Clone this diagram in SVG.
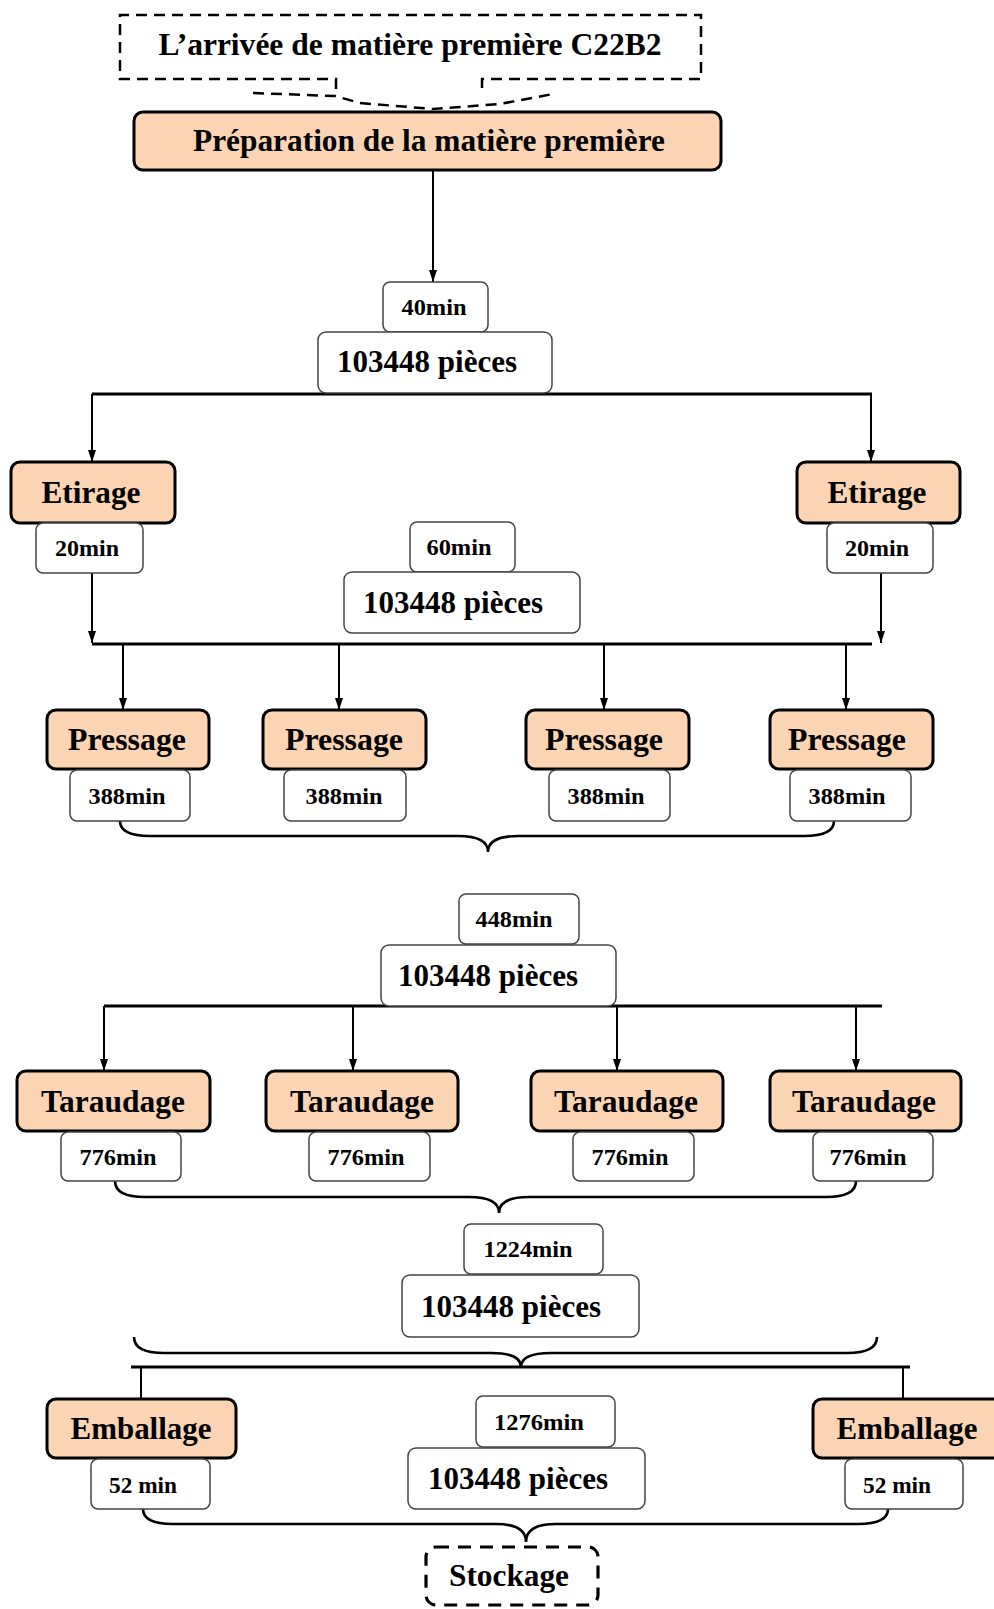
<svg xmlns="http://www.w3.org/2000/svg" width="994" height="1609" viewBox="0 0 994 1609">
<defs>
<style>
.o{fill:#FBD4B4;stroke:#000;stroke-width:3}
.w{fill:#fff;stroke:#444;stroke-width:1.5}
.dash{fill:none;stroke:#000;stroke-width:2.5;stroke-dasharray:11 7}
.dash2{fill:none;stroke:#000;stroke-width:3.2;stroke-dasharray:13 9}
.ln{fill:none;stroke:#000;stroke-width:2}
.bar{fill:none;stroke:#000;stroke-width:3}
.br{fill:none;stroke:#000;stroke-width:2.6}
.big{font-family:"Liberation Serif","Times New Roman",serif;font-weight:bold;font-size:32px;fill:#000;text-anchor:middle}
.sm{font-family:"Liberation Serif","Times New Roman",serif;font-weight:bold;font-size:24px;fill:#000;text-anchor:middle}
</style>
<marker id="ar" viewBox="0 0 12 10" refX="12" refY="5" markerWidth="12" markerHeight="10" markerUnits="userSpaceOnUse" orient="auto">
<path d="M0,1 L12,5 L0,9 z" fill="#000"/>
</marker>
</defs>
<rect width="994" height="1609" fill="#fff"/>

<g id="connectors">
<path class="dash" d="M253 93 L335 96 L360 103 L433 109 L500 104 L553 94"/>
<line class="ln" x1="433" y1="170" x2="433" y2="282" marker-end="url(#ar)"/>
<line class="bar" x1="92" y1="394" x2="872" y2="394"/>
<line class="ln" x1="92" y1="394" x2="92" y2="462" marker-end="url(#ar)"/>
<line class="ln" x1="871" y1="394" x2="871" y2="462" marker-end="url(#ar)"/>
<line class="ln" x1="92" y1="573" x2="92" y2="643" marker-end="url(#ar)"/>
<line class="ln" x1="881" y1="573" x2="881" y2="643" marker-end="url(#ar)"/>
<line class="bar" x1="92" y1="644" x2="872" y2="644"/>
<line class="ln" x1="123" y1="644" x2="123" y2="710" marker-end="url(#ar)"/>
<line class="ln" x1="339" y1="644" x2="339" y2="710" marker-end="url(#ar)"/>
<line class="ln" x1="604" y1="644" x2="604" y2="710" marker-end="url(#ar)"/>
<line class="ln" x1="846" y1="644" x2="846" y2="710" marker-end="url(#ar)"/>
<path class="br" d="M120 821 Q120 836 150 836 L458 836 Q488 836 488 852 Q488 836 518 836 L804 836 Q834 836 834 821"/>
<line class="bar" x1="104" y1="1006" x2="882" y2="1006"/>
<line class="ln" x1="104" y1="1006" x2="104" y2="1071" marker-end="url(#ar)"/>
<line class="ln" x1="353" y1="1006" x2="353" y2="1071" marker-end="url(#ar)"/>
<line class="ln" x1="617" y1="1006" x2="617" y2="1071" marker-end="url(#ar)"/>
<line class="ln" x1="856" y1="1006" x2="856" y2="1071" marker-end="url(#ar)"/>
<path class="br" d="M115 1181 Q115 1197 145 1197 L469 1197 Q499 1197 499 1213 Q499 1197 529 1197 L826 1197 Q856 1197 856 1181"/>
<path class="br" d="M134 1337 Q134 1353 164 1353 L491 1353 Q521 1353 521 1367 Q521 1353 551 1353 L847 1353 Q877 1353 877 1337"/>
<line class="bar" x1="131" y1="1367" x2="910" y2="1367"/>
<line class="ln" x1="141" y1="1367" x2="141" y2="1399"/>
<line class="ln" x1="903" y1="1367" x2="903" y2="1399"/>
<path class="br" d="M143 1509 Q143 1524 173 1524 L496 1524 Q526 1524 526 1542 Q526 1524 556 1524 L858 1524 Q888 1524 888 1509"/>
</g>

<g id="arrivee">
<path class="dash" d="M336 89 L336 79 L120 79 L120 15 L701 15 L701 79 L482 79 L482 93"/>
<text class="big" x="410" y="55" textLength="503" lengthAdjust="spacingAndGlyphs">L’arrivée de matière première C22B2</text>
</g>
<g id="preparation">
<rect class="o" x="134" y="112" width="587" height="58" rx="9"/>
<text class="big" x="429" y="151" textLength="472" lengthAdjust="spacingAndGlyphs">Préparation de la matière première</text>
</g>
<g id="t40">
<rect class="w" x="383" y="282" width="105" height="50" rx="7"/>
<text class="sm" x="434" y="315" textLength="65" lengthAdjust="spacingAndGlyphs">40min</text>
</g>
<g id="p1">
<rect class="w" x="318" y="332" width="234" height="61" rx="8"/>
<text class="big" x="427" y="372" textLength="180" lengthAdjust="spacingAndGlyphs">103448 pièces</text>
</g>
<g id="etirage-l">
<rect class="o" x="11" y="462" width="164" height="61" rx="9"/>
<text class="big" x="91" y="503" textLength="99" lengthAdjust="spacingAndGlyphs">Etirage</text>
</g>
<g id="t20-l">
<rect class="w" x="36" y="523" width="107" height="50" rx="7"/>
<text class="sm" x="87" y="556" textLength="64" lengthAdjust="spacingAndGlyphs">20min</text>
</g>
<g id="etirage-r">
<rect class="o" x="797" y="462" width="163" height="61" rx="9"/>
<text class="big" x="877" y="503" textLength="99" lengthAdjust="spacingAndGlyphs">Etirage</text>
</g>
<g id="t20-r">
<rect class="w" x="827" y="523" width="106" height="50" rx="7"/>
<text class="sm" x="877" y="556" textLength="64" lengthAdjust="spacingAndGlyphs">20min</text>
</g>
<g id="t60">
<rect class="w" x="410" y="522" width="105" height="50" rx="7"/>
<text class="sm" x="459" y="555" textLength="65" lengthAdjust="spacingAndGlyphs">60min</text>
</g>
<g id="p2">
<rect class="w" x="344" y="572" width="236" height="61" rx="8"/>
<text class="big" x="453" y="613" textLength="180" lengthAdjust="spacingAndGlyphs">103448 pièces</text>
</g>

<g id="pressage-1">
<rect class="o" x="47" y="710" width="162" height="59" rx="9"/>
<text class="big" x="127" y="750" textLength="118" lengthAdjust="spacingAndGlyphs">Pressage</text>
</g>
<g id="pressage-2">
<rect class="o" x="263" y="710" width="163" height="59" rx="9"/>
<text class="big" x="344" y="750" textLength="118" lengthAdjust="spacingAndGlyphs">Pressage</text>
</g>
<g id="pressage-3">
<rect class="o" x="526" y="710" width="163" height="59" rx="9"/>
<text class="big" x="604" y="750" textLength="118" lengthAdjust="spacingAndGlyphs">Pressage</text>
</g>
<g id="pressage-4">
<rect class="o" x="770" y="710" width="163" height="59" rx="9"/>
<text class="big" x="847" y="750" textLength="118" lengthAdjust="spacingAndGlyphs">Pressage</text>
</g>
<g id="t388-1">
<rect class="w" x="70" y="770" width="120" height="51" rx="7"/>
<text class="sm" x="127" y="804" textLength="77" lengthAdjust="spacingAndGlyphs">388min</text>
</g>
<g id="t388-2">
<rect class="w" x="284" y="770" width="122" height="51" rx="7"/>
<text class="sm" x="344" y="804" textLength="77" lengthAdjust="spacingAndGlyphs">388min</text>
</g>
<g id="t388-3">
<rect class="w" x="549" y="770" width="121" height="51" rx="7"/>
<text class="sm" x="606" y="804" textLength="77" lengthAdjust="spacingAndGlyphs">388min</text>
</g>
<g id="t388-4">
<rect class="w" x="790" y="770" width="121" height="51" rx="7"/>
<text class="sm" x="847" y="804" textLength="77" lengthAdjust="spacingAndGlyphs">388min</text>
</g>

<g id="t448">
<rect class="w" x="459" y="894" width="120" height="50" rx="7"/>
<text class="sm" x="514" y="927" textLength="77" lengthAdjust="spacingAndGlyphs">448min</text>
</g>
<g id="p3">
<rect class="w" x="381" y="945" width="235" height="61" rx="8"/>
<text class="big" x="488" y="986" textLength="180" lengthAdjust="spacingAndGlyphs">103448 pièces</text>
</g>

<g id="taraudage-1">
<rect class="o" x="17" y="1071" width="193" height="60" rx="9"/>
<text class="big" x="113" y="1112" textLength="144" lengthAdjust="spacingAndGlyphs">Taraudage</text>
</g>
<g id="taraudage-2">
<rect class="o" x="266" y="1071" width="192" height="60" rx="9"/>
<text class="big" x="362" y="1112" textLength="144" lengthAdjust="spacingAndGlyphs">Taraudage</text>
</g>
<g id="taraudage-3">
<rect class="o" x="531" y="1071" width="192" height="60" rx="9"/>
<text class="big" x="626" y="1112" textLength="144" lengthAdjust="spacingAndGlyphs">Taraudage</text>
</g>
<g id="taraudage-4">
<rect class="o" x="770" y="1071" width="191" height="60" rx="9"/>
<text class="big" x="864" y="1112" textLength="144" lengthAdjust="spacingAndGlyphs">Taraudage</text>
</g>
<g id="t776-1">
<rect class="w" x="61" y="1132" width="120" height="49" rx="7"/>
<text class="sm" x="118" y="1165" textLength="77" lengthAdjust="spacingAndGlyphs">776min</text>
</g>
<g id="t776-2">
<rect class="w" x="309" y="1132" width="121" height="49" rx="7"/>
<text class="sm" x="366" y="1165" textLength="77" lengthAdjust="spacingAndGlyphs">776min</text>
</g>
<g id="t776-3">
<rect class="w" x="573" y="1132" width="121" height="49" rx="7"/>
<text class="sm" x="630" y="1165" textLength="77" lengthAdjust="spacingAndGlyphs">776min</text>
</g>
<g id="t776-4">
<rect class="w" x="813" y="1132" width="120" height="49" rx="7"/>
<text class="sm" x="868" y="1165" textLength="77" lengthAdjust="spacingAndGlyphs">776min</text>
</g>

<g id="t1224">
<rect class="w" x="464" y="1224" width="139" height="50" rx="7"/>
<text class="sm" x="528" y="1257" textLength="89" lengthAdjust="spacingAndGlyphs">1224min</text>
</g>
<g id="p4">
<rect class="w" x="402" y="1275" width="237" height="62" rx="8"/>
<text class="big" x="511" y="1317" textLength="180" lengthAdjust="spacingAndGlyphs">103448 pièces</text>
</g>

<g id="emballage-l">
<rect class="o" x="47" y="1399" width="189" height="59" rx="9"/>
<text class="big" x="141" y="1439" textLength="141" lengthAdjust="spacingAndGlyphs">Emballage</text>
</g>
<g id="t52-l">
<rect class="w" x="91" y="1459" width="119" height="50" rx="7"/>
<text class="sm" x="143" y="1493" textLength="68" lengthAdjust="spacingAndGlyphs">52 min</text>
</g>
<g id="emballage-r">
<rect class="o" x="813" y="1399" width="195" height="59" rx="9"/>
<text class="big" x="907" y="1439" textLength="141" lengthAdjust="spacingAndGlyphs">Emballage</text>
</g>
<g id="t52-r">
<rect class="w" x="845" y="1459" width="118" height="50" rx="7"/>
<text class="sm" x="897" y="1493" textLength="68" lengthAdjust="spacingAndGlyphs">52 min</text>
</g>
<g id="t1276">
<rect class="w" x="476" y="1396" width="139" height="51" rx="7"/>
<text class="sm" x="539" y="1430" textLength="90" lengthAdjust="spacingAndGlyphs">1276min</text>
</g>
<g id="p5">
<rect class="w" x="408" y="1448" width="237" height="61" rx="8"/>
<text class="big" x="518" y="1489" textLength="180" lengthAdjust="spacingAndGlyphs">103448 pièces</text>
</g>

<g id="stockage">
<rect class="dash2" x="426" y="1547" width="172" height="58" rx="10"/>
<text class="big" x="509" y="1586" textLength="120" lengthAdjust="spacingAndGlyphs">Stockage</text>
</g>
</svg>
